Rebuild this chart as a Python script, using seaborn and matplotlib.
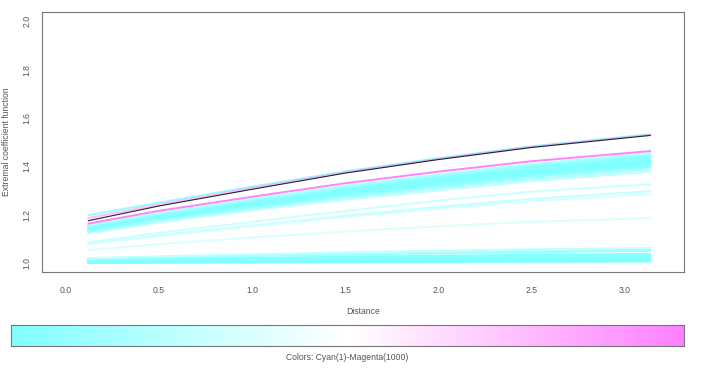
"""
Extremal coefficient curves against distance, coloured by rank
(cyan = rank 1, magenta = rank 1000), with the observed curve in black.
"""

import matplotlib
matplotlib.use('Agg')
import matplotlib.pyplot as plt
from matplotlib.colors import LinearSegmentedColormap
import seaborn as sns
import numpy as np
import pandas as pd

distance = [0.12, 0.5, 1.0, 1.5, 2.0, 2.5, 3.14]

# Observed curve (black)
observed = [1.175, 1.236, 1.305, 1.372, 1.428, 1.478, 1.528]

# Simulated curves, grouped by where they sit in the plot
bottom_curves = [
    [1.020, 1.028, 1.036, 1.044, 1.051, 1.057, 1.062],
    [1.018, 1.025, 1.032, 1.039, 1.045, 1.051, 1.056],
    [1.016, 1.022, 1.029, 1.035, 1.040, 1.045, 1.050],
    [1.012, 1.016, 1.021, 1.026, 1.030, 1.034, 1.038],
    [1.010, 1.013, 1.017, 1.021, 1.025, 1.028, 1.032],
    [1.008, 1.011, 1.014, 1.017, 1.020, 1.023, 1.026],
    [1.006, 1.008, 1.011, 1.013, 1.016, 1.018, 1.020],
    [1.004, 1.006, 1.008, 1.010, 1.012, 1.013, 1.015],
    [1.002, 1.003, 1.004, 1.006, 1.008, 1.009, 1.010],
    [1.000, 1.001, 1.002, 1.003, 1.004, 1.005, 1.006],
]
bottom_ranks = [260, 180, 90, 20, 40, 8, 5, 3, 2, 1]

middle_curves = [
    [1.085, 1.125, 1.170, 1.215, 1.258, 1.295, 1.326],
    [1.080, 1.115, 1.155, 1.195, 1.232, 1.265, 1.297],
    [1.078, 1.112, 1.152, 1.190, 1.225, 1.256, 1.285],
    [1.054, 1.078, 1.105, 1.130, 1.152, 1.170, 1.186],
]
middle_ranks = [300, 270, 330, 350]

band_curves = [
    [1.157, 1.208, 1.265, 1.320, 1.367, 1.410, 1.455],
    [1.155, 1.205, 1.262, 1.316, 1.363, 1.405, 1.450],
    [1.153, 1.203, 1.259, 1.313, 1.359, 1.401, 1.446],
    [1.151, 1.200, 1.256, 1.309, 1.355, 1.396, 1.441],
    [1.149, 1.198, 1.253, 1.306, 1.351, 1.392, 1.436],
    [1.147, 1.195, 1.250, 1.302, 1.346, 1.387, 1.431],
    [1.145, 1.193, 1.247, 1.298, 1.342, 1.383, 1.426],
    [1.142, 1.190, 1.244, 1.295, 1.338, 1.378, 1.421],
    [1.140, 1.188, 1.241, 1.291, 1.334, 1.374, 1.416],
    [1.138, 1.185, 1.238, 1.287, 1.329, 1.369, 1.411],
    [1.136, 1.183, 1.235, 1.284, 1.325, 1.365, 1.406],
    [1.133, 1.180, 1.232, 1.280, 1.321, 1.360, 1.401],
    [1.131, 1.178, 1.229, 1.277, 1.317, 1.356, 1.396],
    [1.127, 1.173, 1.224, 1.270, 1.309, 1.347, 1.387],
    [1.122, 1.168, 1.218, 1.262, 1.300, 1.338, 1.378],
]
band_ranks = [200, 120, 70, 35, 18, 9, 4, 2, 6, 12, 25, 45, 80, 150, 240]

top_curves = [
    [1.198, 1.250, 1.316, 1.379, 1.434, 1.483, 1.533],
    [1.163, 1.216, 1.274, 1.330, 1.378, 1.421, 1.463],
]
top_ranks = [80, 985]

# Faint magenta curve lying on the top cyan one
overlay_curve = [1.186, 1.242, 1.310, 1.375, 1.430, 1.480, 1.530]
overlay_rank = 1000

# Colour index for the legend strip
color_index = np.arange(1, 1001)

x_ticks = [0.0, 0.5, 1.0, 1.5, 2.0, 2.5, 3.0]
y_ticks = [1.0, 1.2, 1.4, 1.6, 1.8, 2.0]

TEXT = '#555555'
FRAME = '#777777'


def to_long(curves, ranks, tag):
    rows = []
    for i, (vals, r) in enumerate(zip(curves, ranks)):
        for d, v in zip(distance, vals):
            rows.append({'curve': f'{tag}{i}', 'rank': r,
                         'distance': d, 'value': v})
    return pd.DataFrame(rows)


sns.set_style('white')
plt.rcParams['font.family'] = ['Liberation Sans', 'DejaVu Sans']

# R's cm.colors: cyan -> white -> magenta
cm_colors = LinearSegmentedColormap.from_list(
    'cm_colors', ['#80ffff', '#ffffff', '#ff80ff'])

fig = plt.figure(figsize=(7.06, 3.78), dpi=100)
ax = fig.add_axes([0.0599, 0.2796, 0.9093, 0.6894])

sims = pd.concat([to_long(bottom_curves, bottom_ranks, 'b'),
                  to_long(middle_curves, middle_ranks, 'm'),
                  to_long(band_curves, band_ranks, 'k'),
                  to_long(top_curves, top_ranks, 't')],
                 ignore_index=True)

sns.lineplot(data=sims, x='distance', y='value', hue='rank', units='curve',
             estimator=None, palette=cm_colors, hue_norm=(1, 1000),
             legend=False, linewidth=1.4, ax=ax)

over = to_long([overlay_curve], [overlay_rank], 'o')
sns.lineplot(data=over, x='distance', y='value', hue='rank', units='curve',
             estimator=None, palette=cm_colors, hue_norm=(1, 1000),
             legend=False, linewidth=1.6, alpha=0.5, ax=ax)

obs = pd.DataFrame({'distance': distance, 'value': observed})
sns.lineplot(data=obs, x='distance', y='value', color='#222222',
             linewidth=0.8, ax=ax)

ax.set_xlim(-0.127, 3.322)
ax.set_ylim(0.9615, 2.0397)
ax.set_xticks(x_ticks)
ax.set_xticklabels([f'{t:.1f}' for t in x_ticks])
ax.set_yticks(y_ticks)
ax.set_yticklabels([f'{t:.1f}' for t in y_ticks], rotation=90, va='center')
ax.set_xlabel('')
ax.set_ylabel('')
ax.tick_params(axis='both', direction='out', length=4, width=0.7,
               color=FRAME, labelcolor=TEXT, labelsize=6.2)
ax.tick_params(axis='x', pad=6)
ax.tick_params(axis='y', pad=3.5)
for spine in ax.spines.values():
    spine.set_visible(True)
    spine.set_color(FRAME)
    spine.set_linewidth(0.8)

fig.text(363 / 706, 1 - 311 / 378, 'Distance', ha='center', va='center',
         fontsize=6.2, color=TEXT)
fig.text(7 / 706, 1 - 142 / 378, 'Extremal coefficient function',
         ha='center', va='center', rotation=90, fontsize=6.2, color=TEXT)

# Colour strip underneath
cax = fig.add_axes([0.01516, 0.08466, 0.9541, 0.0548])
sns.heatmap(color_index.reshape(1, -1), cmap=cm_colors, vmin=1, vmax=1000,
            cbar=False, xticklabels=False, yticklabels=False, ax=cax)
for spine in cax.spines.values():
    spine.set_visible(True)
    spine.set_color(FRAME)
    spine.set_linewidth(0.8)

fig.text(347.5 / 706, 1 - 357 / 378, 'Colors: Cyan(1)-Magenta(1000)',
         ha='center', va='center', fontsize=6.2, color=TEXT)

fig.savefig('out.png', dpi=100)
